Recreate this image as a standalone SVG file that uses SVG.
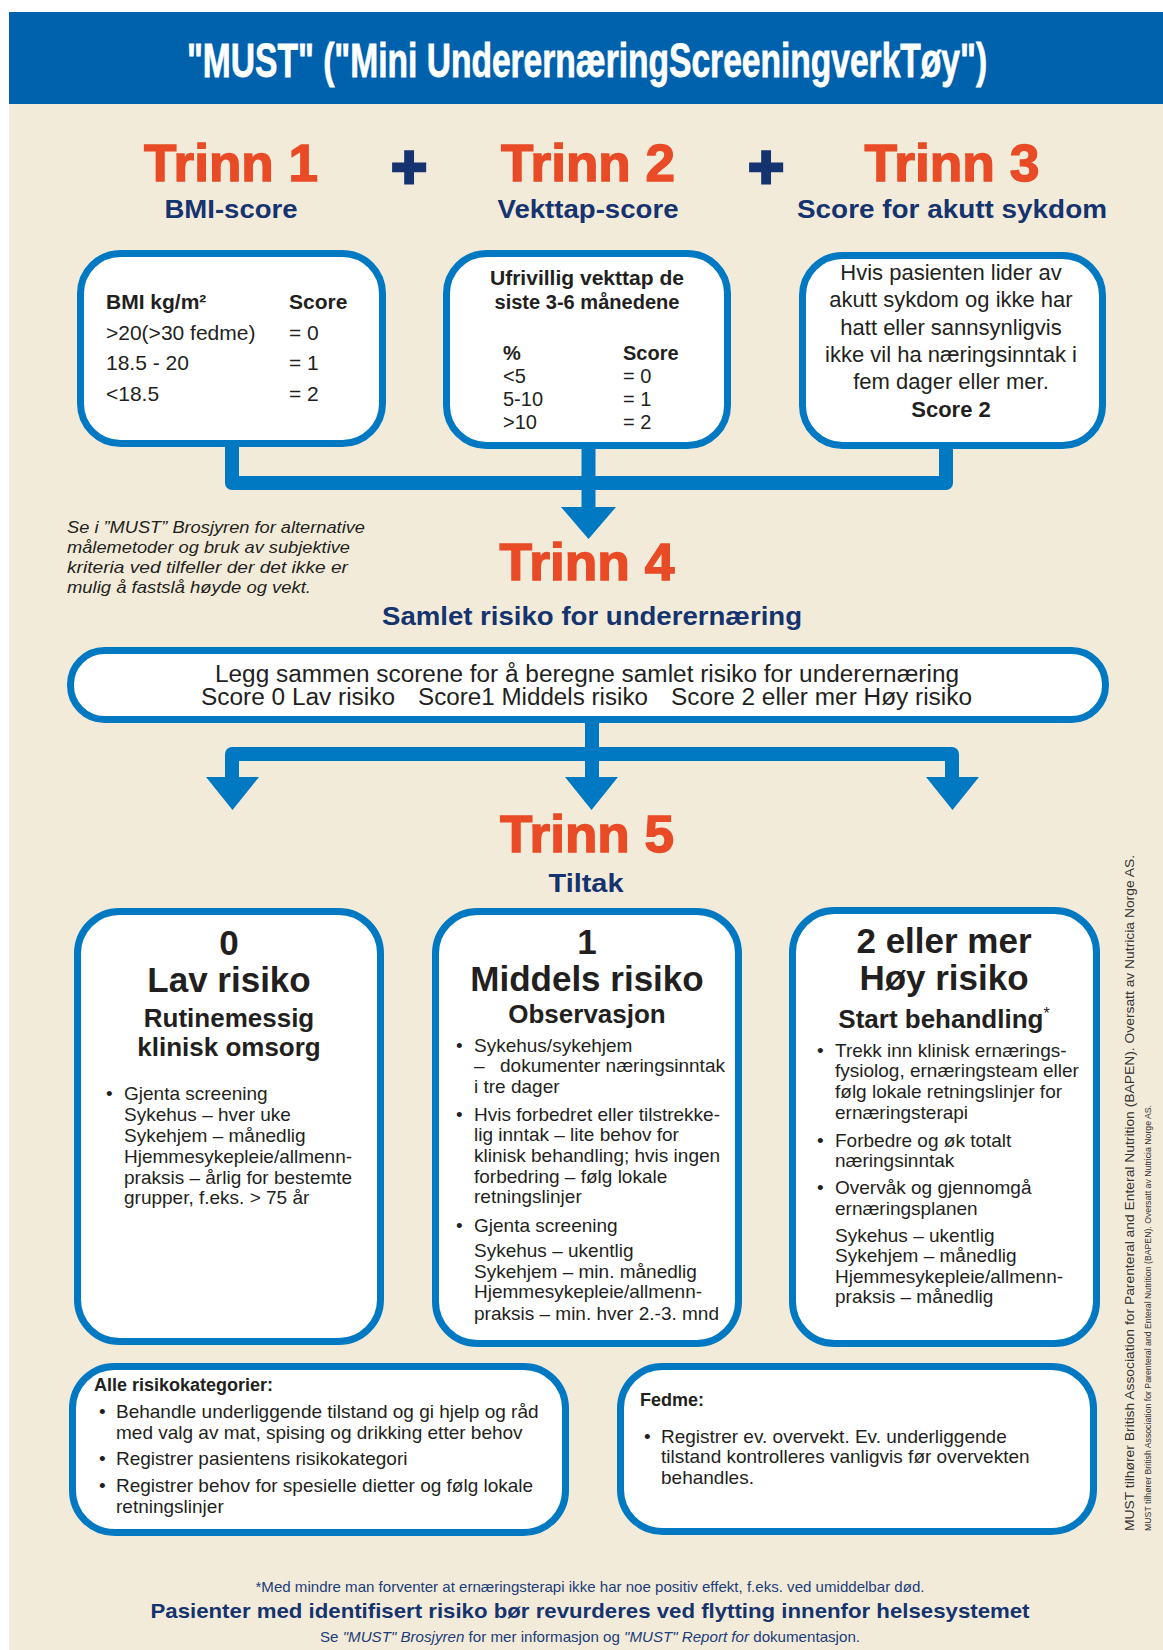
<svg xmlns="http://www.w3.org/2000/svg" width="1163" height="1650" viewBox="0 0 1163 1650">
<style>
text{font-family:"Liberation Sans",Arial,sans-serif;}
.box{fill:#fff;stroke:#0079C2;stroke-width:7;}
.title{font-weight:bold;font-size:48px;fill:#fff;stroke:#fff;stroke-width:0.8;}
.trinn{font-weight:bold;font-size:52px;fill:#E84B26;stroke:#E84B26;stroke-width:1.4;}
.plus{font-weight:bold;font-size:62px;fill:#14336F;stroke:#14336F;stroke-width:3;}
.sub{font-weight:bold;font-size:25px;fill:#14336F;}
.b{font-size:21px;fill:#231F20;}
.bb{font-size:21px;font-weight:bold;fill:#231F20;}
.t2{font-size:20px;fill:#231F20;}
.t2b{font-size:20px;font-weight:bold;fill:#231F20;}
.t3{font-size:22px;fill:#231F20;}
.note{font-size:17px;font-style:italic;fill:#231F20;}
.pill{font-size:23px;fill:#231F20;}
.big{font-size:35px;font-weight:bold;fill:#231F20;}
.mid{font-size:26px;font-weight:bold;fill:#231F20;}
.l{font-size:19px;fill:#231F20;}
.s{font-size:19px;fill:#231F20;}
.sb{font-size:18px;font-weight:bold;fill:#231F20;}
.foot{font-size:14.5px;fill:#1B3D7A;}
.footb{font-size:21px;font-weight:bold;fill:#14336F;}
.side{fill:#333;}
.conn{fill:none;stroke:#0079C2;stroke-width:14;stroke-linejoin:round;}
.arr{fill:#0079C2;}
</style>
<rect x="0" y="0" width="1163" height="1650" fill="#fff"/>
<rect x="9" y="12" width="1154" height="1638" fill="#F3EBD9"/>
<rect x="9" y="12" width="1154" height="92" fill="#0062AC"/>
<text class="title" transform="translate(587,77) scale(0.7,1)" x="0" y="0" text-anchor="middle" textLength="1143" lengthAdjust="spacingAndGlyphs">"MUST" ("Mini UnderernæringScreeningverkTøy")</text>

<g id="headings">
<text class="trinn" x="231" y="181" text-anchor="middle" textLength="174" lengthAdjust="spacingAndGlyphs">Trinn 1</text>
<text class="plus" x="409" y="188" text-anchor="middle">+</text>
<text class="trinn" x="588" y="181" text-anchor="middle" textLength="174" lengthAdjust="spacingAndGlyphs">Trinn 2</text>
<text class="plus" x="766" y="188" text-anchor="middle">+</text>
<text class="trinn" x="952" y="181" text-anchor="middle" textLength="175" lengthAdjust="spacingAndGlyphs">Trinn 3</text>
<text class="sub" x="231" y="218" text-anchor="middle" textLength="133" lengthAdjust="spacingAndGlyphs">BMI-score</text>
<text class="sub" x="588" y="218" text-anchor="middle" textLength="181" lengthAdjust="spacingAndGlyphs">Vekttap-score</text>
<text class="sub" x="952" y="218" text-anchor="middle" textLength="310" lengthAdjust="spacingAndGlyphs">Score for akutt sykdom</text>
</g>

<g id="connectors">
<path class="conn" d="M232 444 V483 H946 V446"/>
<path class="conn" d="M588.5 446 V510"/>
<polygon class="arr" points="561,507 616,507 588.5,539"/>
<path class="conn" d="M592 718 V754"/>
<path class="conn" d="M232 781 V754 H952 V781"/>
<path class="conn" d="M592 754 V780"/>
<polygon class="arr" points="206,777 259,777 232.5,810"/>
<polygon class="arr" points="565,777 618,777 591.5,810"/>
<polygon class="arr" points="926,777 979,777 952.5,810"/>
</g>

<g id="bmi">
<rect class="box" x="80.5" y="253.5" width="302" height="190" rx="40"/>
<text class="bb" x="106" y="309">BMI kg/m²</text>
<text class="bb" x="289" y="309">Score</text>
<text class="b" x="106" y="340">&gt;20(&gt;30 fedme)</text>
<text class="b" x="289" y="340">= 0</text>
<text class="b" x="106" y="370">18.5 - 20</text>
<text class="b" x="289" y="370">= 1</text>
<text class="b" x="106" y="401">&lt;18.5</text>
<text class="b" x="289" y="401">= 2</text>
</g>

<g id="vekttap">
<rect class="box" x="446.5" y="253.5" width="281" height="192" rx="40"/>
<text class="t2b" x="587" y="285" text-anchor="middle" textLength="194" lengthAdjust="spacingAndGlyphs">Ufrivillig vekttap de</text>
<text class="t2b" x="587" y="309" text-anchor="middle" textLength="185" lengthAdjust="spacingAndGlyphs">siste 3-6 månedene</text>
<text class="t2b" x="503" y="360">%</text>
<text class="t2b" x="623" y="360">Score</text>
<text class="t2" x="503" y="383">&lt;5</text>
<text class="t2" x="623" y="383">= 0</text>
<text class="t2" x="503" y="406">5-10</text>
<text class="t2" x="623" y="406">= 1</text>
<text class="t2" x="503" y="429">&gt;10</text>
<text class="t2" x="623" y="429">= 2</text>
</g>

<g id="akutt">
<rect class="box" x="802.5" y="255.5" width="300" height="190" rx="40"/>
<text class="t3" x="951" y="280" text-anchor="middle">Hvis pasienten lider av</text>
<text class="t3" x="951" y="307" text-anchor="middle">akutt sykdom og ikke har</text>
<text class="t3" x="951" y="335" text-anchor="middle">hatt eller sannsynligvis</text>
<text class="t3" x="951" y="362" text-anchor="middle">ikke vil ha næringsinntak i</text>
<text class="t3" x="951" y="389" text-anchor="middle">fem dager eller mer.</text>
<text class="t3" x="951" y="417" text-anchor="middle" font-weight="bold">Score 2</text>
</g>

<g id="note">
<text class="note" x="67" y="533" textLength="298" lengthAdjust="spacingAndGlyphs">Se i ”MUST” Brosjyren for alternative</text>
<text class="note" x="67" y="553" textLength="283" lengthAdjust="spacingAndGlyphs">målemetoder og bruk av subjektive</text>
<text class="note" x="67" y="573" textLength="281" lengthAdjust="spacingAndGlyphs">kriteria ved tilfeller der det ikke er</text>
<text class="note" x="67" y="593" textLength="244" lengthAdjust="spacingAndGlyphs">mulig å fastslå høyde og vekt.</text>
</g>

<g id="trinn4">
<text class="trinn" x="587" y="580" text-anchor="middle" textLength="175" lengthAdjust="spacingAndGlyphs">Trinn 4</text>
<text class="sub" x="592" y="625" text-anchor="middle" textLength="420" lengthAdjust="spacingAndGlyphs" font-size="26">Samlet risiko for underernæring</text>
<rect class="box" x="70.5" y="650.5" width="1035" height="69" rx="34"/>
<text class="pill" x="587" y="682" text-anchor="middle" textLength="744" lengthAdjust="spacingAndGlyphs">Legg sammen scorene for å beregne samlet risiko for underernæring</text>
<text class="pill" x="201" y="705" textLength="194" lengthAdjust="spacingAndGlyphs">Score 0 Lav risiko</text>
<text class="pill" x="418" y="705" textLength="230" lengthAdjust="spacingAndGlyphs">Score1 Middels risiko</text>
<text class="pill" x="671" y="705" textLength="301" lengthAdjust="spacingAndGlyphs">Score 2 eller mer Høy risiko</text>
</g>

<g id="trinn5">
<text class="trinn" x="587" y="852" text-anchor="middle" textLength="174" lengthAdjust="spacingAndGlyphs">Trinn 5</text>
<text class="sub" x="586" y="892" text-anchor="middle" textLength="75" lengthAdjust="spacingAndGlyphs" font-size="26">Tiltak</text>
</g>

<g id="lav">
<rect class="box" x="77.5" y="911.5" width="303" height="430" rx="42"/>
<text class="big" x="229" y="955" text-anchor="middle">0</text>
<text class="big" x="229" y="992" text-anchor="middle">Lav risiko</text>
<text class="mid" x="229" y="1027" text-anchor="middle">Rutinemessig</text>
<text class="mid" x="229" y="1056" text-anchor="middle">klinisk omsorg</text>
<text class="l" x="106" y="1100">•</text>
<text class="l" x="124" y="1100">Gjenta screening</text>
<text class="l" x="124" y="1121">Sykehus – hver uke</text>
<text class="l" x="124" y="1142">Sykehjem – månedlig</text>
<text class="l" x="124" y="1163">Hjemmesykepleie/allmenn-</text>
<text class="l" x="124" y="1184">praksis – årlig for bestemte</text>
<text class="l" x="124" y="1204">grupper, f.eks. &gt; 75 år</text>
</g>

<g id="middels">
<rect class="box" x="435.5" y="911.5" width="303" height="432" rx="42"/>
<text class="big" x="587" y="954" text-anchor="middle">1</text>
<text class="big" x="587" y="991" text-anchor="middle">Middels risiko</text>
<text class="mid" x="587" y="1023" text-anchor="middle">Observasjon</text>
<text class="l" x="456" y="1052">•</text>
<text class="l" x="474" y="1052">Sykehus/sykehjem</text>
<text class="l" x="474" y="1072">–</text>
<text class="l" x="500" y="1072">dokumenter næringsinntak</text>
<text class="l" x="474" y="1093">i tre dager</text>
<text class="l" x="456" y="1121">•</text>
<text class="l" x="474" y="1121">Hvis forbedret eller tilstrekke-</text>
<text class="l" x="474" y="1141">lig inntak – lite behov for</text>
<text class="l" x="474" y="1162">klinisk behandling; hvis ingen</text>
<text class="l" x="474" y="1183">forbedring – følg lokale</text>
<text class="l" x="474" y="1203">retningslinjer</text>
<text class="l" x="456" y="1232">•</text>
<text class="l" x="474" y="1232">Gjenta screening</text>
<text class="l" x="474" y="1257">Sykehus – ukentlig</text>
<text class="l" x="474" y="1278">Sykehjem – min. månedlig</text>
<text class="l" x="474" y="1298">Hjemmesykepleie/allmenn-</text>
<text class="l" x="474" y="1320">praksis – min. hver 2.-3. mnd</text>
</g>

<g id="hoy">
<rect class="box" x="792.5" y="910.5" width="304" height="433" rx="42"/>
<text class="big" x="944" y="953" text-anchor="middle">2 eller mer</text>
<text class="big" x="944" y="990" text-anchor="middle">Høy risiko</text>
<text class="mid" x="944" y="1028" text-anchor="middle">Start behandling<tspan font-size="16" font-weight="normal" dy="-9">*</tspan></text>
<text class="l" x="817" y="1057">•</text>
<text class="l" x="835" y="1057">Trekk inn klinisk ernærings-</text>
<text class="l" x="835" y="1077">fysiolog, ernæringsteam eller</text>
<text class="l" x="835" y="1098">følg lokale retningslinjer for</text>
<text class="l" x="835" y="1119">ernæringsterapi</text>
<text class="l" x="817" y="1147">•</text>
<text class="l" x="835" y="1147">Forbedre og øk totalt</text>
<text class="l" x="835" y="1167">næringsinntak</text>
<text class="l" x="817" y="1194">•</text>
<text class="l" x="835" y="1194">Overvåk og gjennomgå</text>
<text class="l" x="835" y="1215">ernæringsplanen</text>
<text class="l" x="835" y="1242">Sykehus – ukentlig</text>
<text class="l" x="835" y="1262">Sykehjem – månedlig</text>
<text class="l" x="835" y="1283">Hjemmesykepleie/allmenn-</text>
<text class="l" x="835" y="1303">praksis – månedlig</text>
</g>

<g id="alle">
<rect class="box" x="72.5" y="1366.5" width="493" height="166" rx="42"/>
<text class="sb" x="94" y="1391">Alle risikokategorier:</text>
<text class="s" x="99" y="1418">•</text>
<text class="s" x="116" y="1418">Behandle underliggende tilstand og gi hjelp og råd</text>
<text class="s" x="116" y="1439">med valg av mat, spising og drikking etter behov</text>
<text class="s" x="99" y="1465">•</text>
<text class="s" x="116" y="1465">Registrer pasientens risikokategori</text>
<text class="s" x="99" y="1492">•</text>
<text class="s" x="116" y="1492">Registrer behov for spesielle dietter og følg lokale</text>
<text class="s" x="116" y="1513">retningslinjer</text>
</g>

<g id="fedme">
<rect class="box" x="620.5" y="1366.5" width="473" height="165" rx="42"/>
<text class="sb" x="640" y="1406">Fedme:</text>
<text class="s" x="644" y="1443">•</text>
<text class="s" x="661" y="1443">Registrer ev. overvekt. Ev. underliggende</text>
<text class="s" x="661" y="1463">tilstand kontrolleres vanligvis før overvekten</text>
<text class="s" x="661" y="1484">behandles.</text>
</g>

<g id="footer">
<text class="foot" x="590" y="1592" text-anchor="middle" textLength="669" lengthAdjust="spacingAndGlyphs">*Med mindre man forventer at ernæringsterapi ikke har noe positiv effekt, f.eks. ved umiddelbar død.</text>
<text class="footb" x="590" y="1618" text-anchor="middle" textLength="879" lengthAdjust="spacingAndGlyphs">Pasienter med identifisert risiko bør revurderes ved flytting innenfor helsesystemet</text>
<text class="foot" x="590" y="1642" text-anchor="middle" textLength="540" lengthAdjust="spacingAndGlyphs">Se <tspan font-style="italic">"MUST" Brosjyren</tspan> for mer informasjon og <tspan font-style="italic">"MUST" Report for</tspan> dokumentasjon.</text>
</g>

<g id="side">
<text class="side" transform="translate(1134,1531) rotate(-90)" font-size="13" textLength="676" lengthAdjust="spacingAndGlyphs">MUST tilhører British Association for Parenteral and Enteral Nutrition (BAPEN). Oversatt av Nutricia Norge AS.</text>
<text class="side" transform="translate(1151,1531) rotate(-90)" font-size="9.5" textLength="426" lengthAdjust="spacingAndGlyphs">MUST tilhører British Association for Parenteral and Enteral Nutrition (BAPEN). Oversatt av Nutricia Norge AS.</text>
</g>
</svg>
